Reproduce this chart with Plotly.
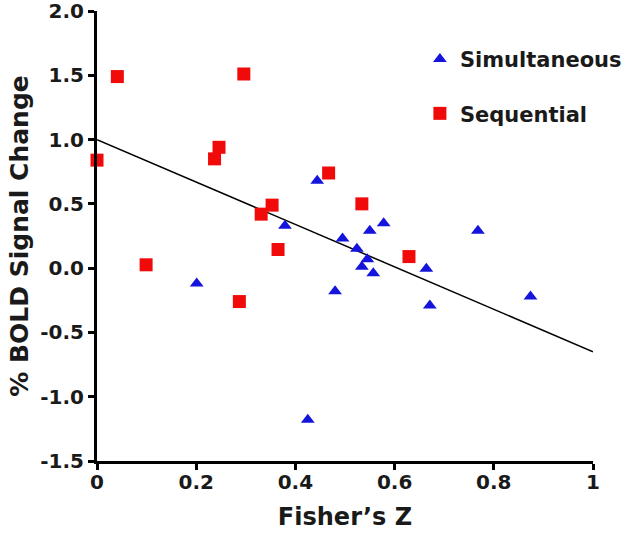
import plotly.graph_objects as go

# Sequential (red squares)
seq_x = [0.0, 0.041, 0.296, 0.246, 0.237, 0.467, 0.353, 0.331, 0.534, 0.365, 0.629, 0.099, 0.287]
seq_y = [0.84, 1.49, 1.51, 0.94, 0.85, 0.74, 0.49, 0.42, 0.50, 0.145, 0.09, 0.026, -0.26]

# Simultaneous (blue triangles)
sim_x = [0.444, 0.379, 0.495, 0.550, 0.578, 0.768, 0.524, 0.545, 0.534, 0.664,
         0.557, 0.201, 0.480, 0.671, 0.874, 0.425]
sim_y = [0.68, 0.33, 0.23, 0.29, 0.35, 0.29, 0.15, 0.07, 0.01, -0.005,
         -0.04, -0.12, -0.18, -0.29, -0.22, -1.18]

# Regression line end points
fit_x = [0.0, 1.0]
fit_y = [1.0, -0.65]

x_ticks = [0, 0.2, 0.4, 0.6, 0.8, 1]
x_ticktext = ["0", "0.2", "0.4", "0.6", "0.8", "1"]
y_ticks = [-1.5, -1.0, -0.5, 0.0, 0.5, 1.0, 1.5, 2.0]
y_ticktext = ["-1.5", "-1.0", "-0.5", "0.0", "0.5", "1.0", "1.5", "2.0"]

FONT = "DejaVu Sans, sans-serif"
TXT = "#1a1a1a"

fig = go.Figure()
fig.add_trace(go.Scatter(x=fit_x, y=fit_y, mode="lines",
                         line=dict(color="black", width=1.5),
                         showlegend=False, hoverinfo="skip"))
fig.add_trace(go.Scatter(x=sim_x, y=sim_y, mode="markers", name="<b>Simultaneous</b>",
                         legendgroup="a",
                         marker=dict(symbol="triangle-up", size=12, color="#1414dc",
                                     line=dict(width=0)),
                         cliponaxis=False))
fig.add_trace(go.Scatter(x=seq_x, y=seq_y, mode="markers", name="<b>Sequential</b>",
                         legendgroup="b",
                         marker=dict(symbol="square", size=13, color="#f00a0a",
                                     line=dict(width=0)),
                         cliponaxis=False))

fig.update_layout(
    width=640, height=551,
    margin=dict(l=97, r=47, t=11, b=90),
    paper_bgcolor="white", plot_bgcolor="white",
    font=dict(family=FONT, color=TXT, size=16),
    legend=dict(x=0.651, y=0.938, xanchor="left", yanchor="top",
                bgcolor="rgba(0,0,0,0)", tracegroupgap=24,
                font=dict(size=21, family=FONT, color=TXT),
                itemsizing="trace"),
    xaxis=dict(range=[0, 1], tickvals=x_ticks, ticktext=["<b>%s</b>" % t for t in x_ticktext],
               automargin=False, ticklabeloverflow="allow", ticklabelstandoff=-5,
               showline=True, linecolor="black", linewidth=3,
               ticks="outside", ticklen=6, tickwidth=2.5, tickcolor="black",
               showgrid=False, zeroline=False,
               tickfont=dict(size=20, family=FONT, color=TXT),
               title=dict(text="<b>Fisher\u2019s Z</b>", font=dict(size=24, family=FONT, color=TXT),
                          standoff=16)),
    yaxis=dict(range=[-1.5, 2.0], tickvals=y_ticks, ticktext=["<b>%s</b>" % t for t in y_ticktext],
               automargin=False, ticklabeloverflow="allow",
               showline=True, linecolor="black", linewidth=3,
               ticks="outside", ticklen=6, tickwidth=2.5, tickcolor="black",
               showgrid=False, zeroline=False,
               tickfont=dict(size=20, family=FONT, color=TXT),
               title=dict(text="<b>% BOLD Signal Change</b>", font=dict(size=25, family=FONT, color=TXT),
                          standoff=5)),
)

# remove the browser's default page margin so the figure sits at the window's corner
fig.write_html("out.html", config={"displayModeBar": False},
               post_script="document.body.style.margin='0';")
